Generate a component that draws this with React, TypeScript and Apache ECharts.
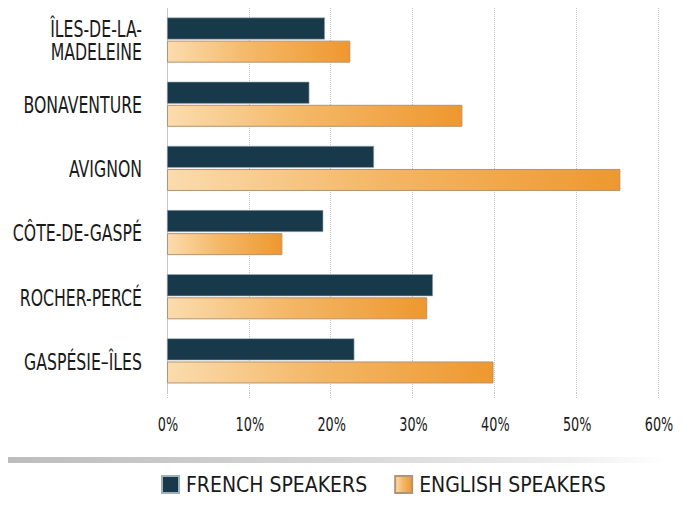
import React, { useEffect, useRef } from "react";
import * as echarts from "echarts";

const categories = ["ÎLES-DE-LA-\nMADELEINE", "BONAVENTURE", "AVIGNON", "CÔTE-DE-GASPÉ", "ROCHER-PERCÉ", "GASPÉSIE–ÎLES"];
const frenchSpeakers = [19.3, 17.4, 25.3, 19.1, 32.5, 22.9];
const englishSpeakers = [22.4, 36.1, 55.4, 14.1, 31.8, 39.9];
const xTicks = [0, 10, 20, 30, 40, 50, 60];
const seriesNames = ["FRENCH SPEAKERS", "ENGLISH SPEAKERS"];
const FONT = "'DejaVu Sans Condensed', 'DejaVu Sans', sans-serif";

export default function App() {
  const ref = useRef<HTMLDivElement>(null);
  useEffect(() => {
    const chart = echarts.init(ref.current!, null, { renderer: "svg" });
    const orange = new echarts.graphic.LinearGradient(0, 0, 1, 0, [
      { offset: 0, color: "#fbdcae" },
      { offset: 0.45, color: "#f4b868" },
      { offset: 1, color: "#ee982f" },
    ]);
    const band = {
      type: "rect",
      shape: { x: 0, y: 457, width: 670, height: 6 },
      style: {
        fill: new echarts.graphic.LinearGradient(0, 0, 1, 0, [
          { offset: 0, color: "#bcbcbc" },
          { offset: 0.5, color: "#d6d6d6" },
          { offset: 0.85, color: "#efefef" },
          { offset: 1, color: "#ffffff" },
        ]),
      },
    };
    chart.setOption({
      animation: false,
      grid: { left: 167, right: 32, top: 8, bottom: 117, containLabel: false, outerBoundsMode: "none" },
      xAxis: {
        type: "value",
        min: 0,
        max: 60,
        interval: 10,
        axisLine: { show: false },
        axisTick: { show: true, length: 5, lineStyle: { color: "#cccccc", type: "dotted" } },
        splitLine: { show: true, lineStyle: { color: "#c8c8c8", type: "dotted", width: 1 } },
        axisLabel: { show: false },
      },
      yAxis: {
        type: "category",
        data: categories,
        inverse: true,
        axisLine: { show: true, lineStyle: { color: "#c8c8c8" } },
        axisTick: { show: false },
        axisLabel: { show: false },
      },
      legend: {
        bottom: 10,
        left: 156,
        itemWidth: 17,
        itemHeight: 17,
        itemGap: 27,
        textStyle: { color: "#1a1a1a", fontFamily: FONT, fontSize: 21, padding: [0, 0, 0, 2] },
        data: [
          { name: seriesNames[0], icon: "rect" },
          { name: seriesNames[1], icon: "rect" },
        ],
      },
      graphic: [band],
      series: [
        {
          name: seriesNames[0],
          type: "bar",
          data: frenchSpeakers,
          barWidth: 22,
          barGap: "5%",
          itemStyle: { color: "#17394a", borderColor: "#9fb0b8", borderWidth: 0.6 },
        },
        {
          name: seriesNames[1],
          type: "bar",
          data: englishSpeakers,
          barWidth: 22,
          barGap: "5%",
          itemStyle: { color: orange, borderColor: "#b89270", borderWidth: 1 },
        },
      ],
    });

    const texts: any[] = [];
    categories.forEach((c, i) => {
      const y = chart.convertToPixel({ yAxisIndex: 0 }, i) as number;
      texts.push({
        type: "text",
        x: 142,
        y: y + 1,
        scaleX: 0.76,
        style: {
          text: c,
          fill: "#1a1a1a",
          font: `23px ${FONT}`,
          align: "right",
          verticalAlign: "middle",
          lineHeight: 23,
        },
      });
    });
    xTicks.forEach((v) => {
      const x = chart.convertToPixel({ xAxisIndex: 0 }, v) as number;
      texts.push({
        type: "text",
        x: x + 1,
        y: 424,
        scaleX: 0.75,
        style: {
          text: `${v}%`,
          fill: "#1a1a1a",
          font: `19px ${FONT}`,
          align: "center",
          verticalAlign: "middle",
        },
      });
    });
    chart.setOption({ graphic: [band, ...texts] });
    return () => chart.dispose();
  }, []);
  return <div ref={ref} style={{ width: 690, height: 510, margin: -8 }} />;
}
